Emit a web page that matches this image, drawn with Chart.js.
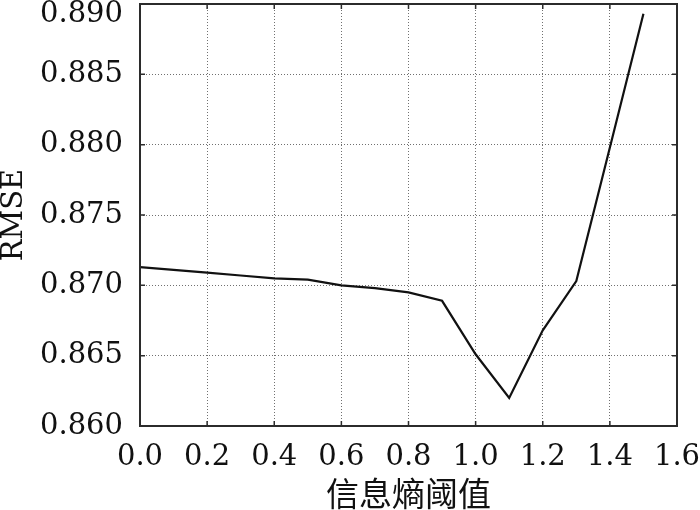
<!DOCTYPE html>
<html>
<head>
<meta charset="utf-8">
<script src="https://cdn.jsdelivr.net/npm/chart.js@4"></script>
<style>
  html, body { margin: 0; padding: 0; background: #fff; }
  #wrap { width: 700px; height: 510px; }
</style>
</head>
<body>
<div id="wrap"><canvas id="grafico" width="700" height="510"></canvas></div>
<script>
// valores
const umbrales = [0.0, 0.1, 0.2, 0.3, 0.4, 0.5, 0.6, 0.7, 0.8, 0.9, 1.0, 1.1, 1.2, 1.3, 1.4, 1.5];
const rmse = [0.8713, 0.8711, 0.8709, 0.8707, 0.8705, 0.8704, 0.8700, 0.8698, 0.8695, 0.8689,
              0.8651, 0.8620, 0.8668, 0.8703, 0.8798, 0.8893];
const ejeX = { min: 0, max: 1.6, paso: 0.2, titulo: '信息熵阈值' };
const ejeY = { min: 0.86, max: 0.89, paso: 0.005, titulo: 'RMSE' };

const serif = "'DejaVu Serif', serif";

// marco y ticks hacia dentro en los cuatro lados
const marco = {
    id: 'marco',
    afterDraw(chart) {
        const { ctx, chartArea: a, scales } = chart;
        ctx.save();
        ctx.strokeStyle = '#2b2b2b';
        ctx.lineWidth = 1.5;
        const L = 5;
        scales.x.ticks.forEach(t => {
            const px = scales.x.getPixelForValue(t.value);
            ctx.beginPath();
            ctx.moveTo(px, a.bottom); ctx.lineTo(px, a.bottom - L);
            ctx.moveTo(px, a.top); ctx.lineTo(px, a.top + L);
            ctx.stroke();
        });
        scales.y.ticks.forEach(t => {
            const py = scales.y.getPixelForValue(t.value);
            ctx.beginPath();
            ctx.moveTo(a.left, py); ctx.lineTo(a.left + L, py);
            ctx.moveTo(a.right, py); ctx.lineTo(a.right - L, py);
            ctx.stroke();
        });
        ctx.lineWidth = 2;
        ctx.strokeRect(a.left, a.top, a.right - a.left, a.bottom - a.top);
        ctx.restore();
    }
};

const esTope = v => Math.abs(v - ejeY.max) < 1e-9;

new Chart(document.getElementById('grafico'), {
    type: 'line',
    data: {
        datasets: [{
            data: umbrales.map((u, i) => ({ x: u, y: rmse[i] })),
            borderColor: '#111',
            borderWidth: 2.2,
            pointRadius: 0,
            tension: 0,
            fill: false
        }]
    },
    options: {
        responsive: false,
        animation: false,
        layout: { padding: { top: 4, right: 23, left: 0, bottom: 0 } },
        plugins: { legend: { display: false }, tooltip: { enabled: false } },
        scales: {
            x: {
                type: 'linear',
                min: ejeX.min, max: ejeX.max,
                afterFit: s => { s.height = 84; s.paddingLeft = 0; s.paddingRight = 0; },
                ticks: {
                    stepSize: ejeX.paso,
                    padding: 14,
                    color: '#111',
                    font: { family: serif, size: 29 },
                    callback: v => v.toFixed(1)
                },
                grid: { color: '#707070', lineWidth: 1, drawTicks: false },
                border: { display: false, dash: [1, 2] },
                title: {
                    display: true,
                    text: ejeX.titulo,
                    color: '#111',
                    font: { family: "'Noto Sans CJK SC', sans-serif", size: 33, lineHeight: 1 },
                    padding: { top: 0, bottom: 0 }
                }
            },
            y: {
                min: ejeY.min, max: ejeY.max,
                afterFit: s => { s.width = 140; s.paddingTop = 0; s.paddingBottom = 0; },
                ticks: {
                    stepSize: ejeY.paso,
                    padding: 17,
                    color: '#111',
                    font: c => ({ family: serif, size: 29, lineHeight: (c.tick && esTope(c.tick.value)) ? 0.7 : 1.2 }),
                    callback: v => esTope(v) ? ['', v.toFixed(3)] : v.toFixed(3)
                },
                grid: { color: '#707070', lineWidth: 1, drawTicks: false },
                border: { display: false, dash: [1, 2] },
                title: {
                    display: true,
                    text: ejeY.titulo,
                    color: '#111',
                    font: { family: serif, size: 29, lineHeight: 0.8 },
                    padding: { top: 3, bottom: 0 }
                }
            }
        }
    },
    plugins: [marco]
});
</script>
</body>
</html>
